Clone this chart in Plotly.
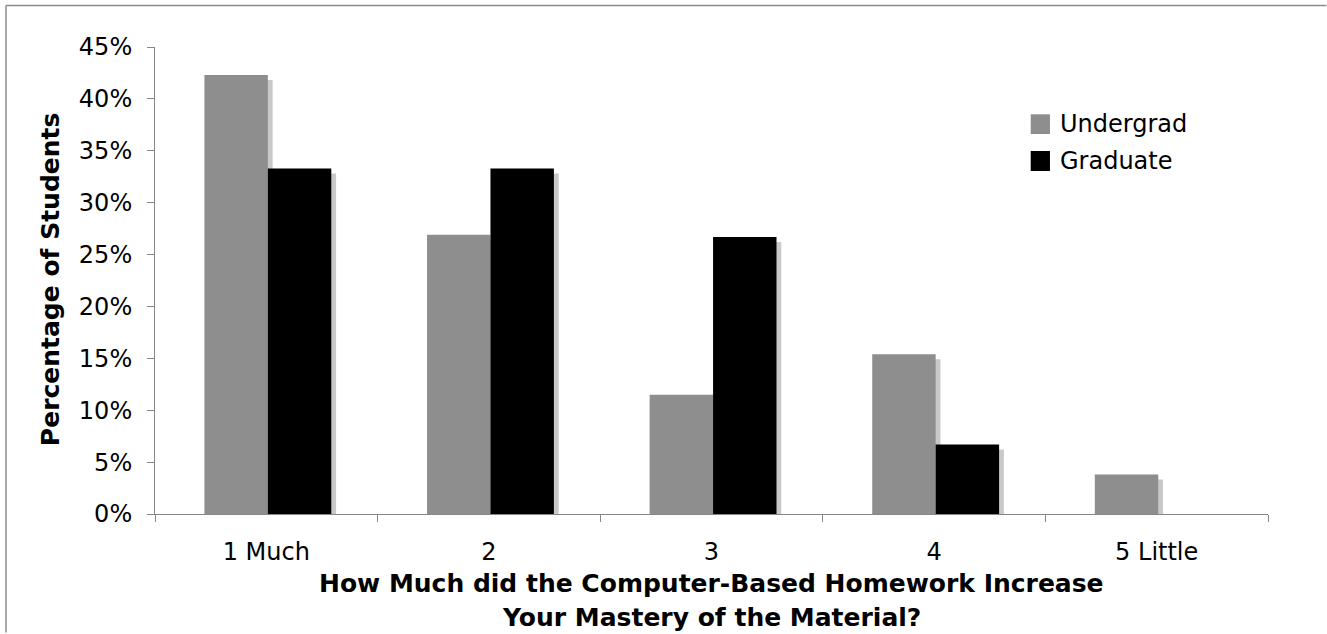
import plotly.graph_objects as go

# Survey responses: share of students per rating
categories = ["1 Much", "2", "3", "4", "5 Little"]
undergrad = [42.3, 26.9, 11.5, 15.4, 3.8]
graduate = [33.3, 33.3, 26.7, 6.7, 0.0]
y_ticks = [0, 5, 10, 15, 20, 25, 30, 35, 40, 45]
y_tick_text = [f"{v}%" for v in y_ticks]

FONT = "DejaVu Sans"
AXIS_GREY = "#868686"
UG_COLOR = "#8e8e8e"
GR_COLOR = "#000000"
SHADOW = "#c9c9c9"

BAR_W = 0.285
UG_OFF = -0.278
GR_OFF = 0.007
SH_DX = 0.0215   # shadow shift to the right (category units)
SH_DY = 0.48     # shadow drop (percentage points)

fig = go.Figure()

# drop shadows behind each bar
for vals, off in ((undergrad, UG_OFF), (graduate, GR_OFF)):
    fig.add_trace(go.Bar(
        x=categories, y=[max(v - SH_DY, 0) for v in vals],
        offset=off + SH_DX, width=BAR_W,
        marker=dict(color=SHADOW, line=dict(width=0)),
        showlegend=False, hoverinfo="skip",
    ))

fig.add_trace(go.Bar(
    x=categories, y=undergrad, name="Undergrad",
    offset=UG_OFF, width=BAR_W,
    marker=dict(color=UG_COLOR, line=dict(width=0)),
    showlegend=False,
))
fig.add_trace(go.Bar(
    x=categories, y=graduate, name="Graduate",
    offset=GR_OFF, width=BAR_W,
    marker=dict(color=GR_COLOR, line=dict(width=0)),
    showlegend=False,
))

# legend drawn as swatches + labels
legend_items = [("Undergrad", UG_COLOR, 0.8137, 0.8559, 0.8351),
                ("Graduate", GR_COLOR, 0.7345, 0.7773, 0.7559)]
shapes = []
annotations = []
for label, col, y0, y1, yt in legend_items:
    shapes.append(dict(type="rect", xref="paper", yref="paper",
                       x0=0.7868, x1=0.8041, y0=y0, y1=y1,
                       fillcolor=col, line=dict(width=0)))
    annotations.append(dict(text=label, xref="paper", yref="paper",
                            x=0.8113, y=yt, xanchor="left", yanchor="middle",
                            showarrow=False, font=dict(family=FONT, size=24, color="black")))

# outer frame (top and left edges), stopping short of the page's right edge
frame = dict(color="#8c8c8c", width=1.5)
shapes.append(dict(type="line", xref="paper", yref="paper",
                   x0=-0.1339, x1=1.0525, y0=1.0889, y1=1.0889, line=frame, layer="below"))
shapes.append(dict(type="line", xref="paper", yref="paper",
                   x0=-0.1339, x1=-0.1339, y0=-0.2537, y1=1.0889, line=frame, layer="below"))

annotations += [
    dict(text="<b>Percentage of Students</b>", xref="paper", yref="paper",
         x=-0.0943, y=0.503, textangle=-90, showarrow=False,
         xanchor="center", yanchor="middle",
         font=dict(family=FONT, size=25, color="black")),
    dict(text="<b>How Much did the Computer-Based Homework Increase</b>",
         xref="paper", yref="paper", x=0.5, y=-0.1478, showarrow=False,
         xanchor="center", yanchor="middle",
         font=dict(family=FONT, size=25, color="black")),
    dict(text="<b>Your Mastery of the Material?</b>",
         xref="paper", yref="paper", x=0.5, y=-0.2206, showarrow=False,
         xanchor="center", yanchor="middle",
         font=dict(family=FONT, size=25, color="black")),
]

fig.update_layout(
    width=1327, height=634,
    margin=dict(l=155, r=59, t=47, b=120, pad=0),
    paper_bgcolor="white", plot_bgcolor="white",
    barmode="overlay",
    font=dict(family=FONT, size=24, color="black"),
    shapes=shapes, annotations=annotations,
    xaxis=dict(
        type="category", categoryorder="array", categoryarray=categories,
        showline=True, linecolor=AXIS_GREY, linewidth=1,
        ticks="outside", tickson="boundaries", ticklen=7, tickcolor=AXIS_GREY,
        showgrid=False, zeroline=False, ticklabelstandoff=16,
        tickfont=dict(family=FONT, size=24, color="black"),
    ),
    yaxis=dict(
        range=[0, 45], tickvals=y_ticks, ticktext=y_tick_text,
        showline=True, linecolor=AXIS_GREY, linewidth=1,
        ticks="outside", ticklen=7, tickcolor=AXIS_GREY,
        showgrid=False, zeroline=False, ticklabelstandoff=10,
        tickfont=dict(family=FONT, size=24, color="black"),
    ),
)

fig.write_html(
    "out.html",
    config={"displayModeBar": False},
    post_script="document.body.style.margin='0';document.body.style.overflow='hidden';",
)
